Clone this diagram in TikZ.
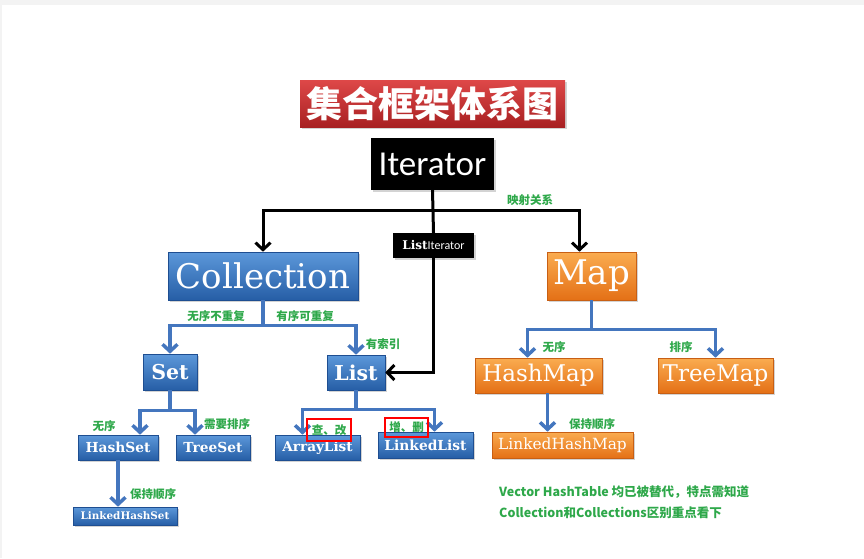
\documentclass[tikz,border=0pt]{standalone}
\usepackage{fontspec}
\usepackage{xcolor}
\usepackage{tikz}
\usetikzlibrary{arrows.meta,positioning,shadows,calc}
\newfontfamily\cjk{Noto Sans CJK SC}
\newfontfamily\boxfont{DejaVu Serif}
\newfontfamily\itfont{Carlito}
\newcommand\fsz[1]{\fontsize{#1}{#1}\selectfont}
\definecolor{boxtop}{RGB}{92,152,218}
\definecolor{boxbot}{RGB}{38,94,166}
\definecolor{boxedge}{RGB}{30,78,145}
\definecolor{ortop}{RGB}{250,172,80}
\definecolor{orbot}{RGB}{228,112,22}
\definecolor{oredge}{RGB}{200,95,20}
\definecolor{redtop}{RGB}{222,72,72}
\definecolor{redbot}{RGB}{168,32,34}
\definecolor{linkc}{RGB}{68,118,190}
\definecolor{notec}{RGB}{46,168,74}
\definecolor{stripc}{RGB}{243,243,243}

\begin{document}
\begin{tikzpicture}[x=1pt,y=-1pt,>={Straight Barb[length=7pt,width=15pt]},
    bx/.style={rectangle,inner sep=0pt,text=white,drop shadow={opacity=0.35,shadow xshift=1.5pt,shadow yshift=-1.5pt}},
    bluebox/.style={bx,top color=boxtop,bottom color=boxbot,draw=boxedge,line width=0.6pt,font=\boxfont},
    orbox/.style={bx,top color=ortop,bottom color=orbot,draw=oredge,line width=0.6pt,font=\boxfont},
    blkbox/.style={bx,fill=black},
    note/.style={text=notec,font=\cjk\bfseries\fsz{11.5},inner sep=0pt},
    blk/.style={draw=black,line width=3pt},
    lnk/.style={draw=linkc,line width=3.5pt}]
  \useasboundingbox (0,0) rectangle (864,558);
  % page edge
  \fill[stripc] (0,0) rectangle (864,5);
  \fill[stripc] (0,0) rectangle (1.5,558);
  % title and iterators
  \node[bx,top color=redtop,bottom color=redbot,minimum width=265pt,minimum height=47pt] (title) at (432.5,103.5) {\cjk\bfseries\fsz{36}集合框架体系图};
  \node[blkbox,minimum width=123pt,minimum height=52pt] (iter) at (432.5,164) {\itfont\fsz{35}Iterator};
  \node[blkbox,minimum width=81pt,minimum height=25pt] (lit) at (433.5,245.5) {{\boxfont\bfseries\fsz{12}List}{\itfont\fsz{12}Iterator}};
  % top level
  \node[bluebox,minimum width=190pt,minimum height=48pt] (coll) at (263,276) {\fsz{34}Collection};
  \node[orbox,minimum width=89pt,minimum height=48pt] (map) at (591.5,276) {\fsz{34}Map};
  % collection side
  \node[bluebox,minimum width=54pt,minimum height=36pt] (set) at (170,372) {\bfseries\fsz{20.5}Set};
  \node[bluebox,minimum width=58pt,minimum height=35pt] (list) at (356,372.5) {\bfseries\fsz{20.5}List};
  \node[bluebox,minimum width=80pt,minimum height=25pt] (hs) at (118,447.5) {\bfseries\fsz{13.8}HashSet};
  \node[bluebox,minimum width=74pt,minimum height=25pt] (ts) at (213,447.5) {\bfseries\fsz{13.8}TreeSet};
  \node[bluebox,minimum width=104pt,minimum height=18pt] (lhs) at (125,516) {\bfseries\fsz{10.4}LinkedHashSet};
  \node[bluebox,minimum width=85pt,minimum height=25pt] (al) at (317.5,447.5) {\bfseries\fsz{13.6}ArrayList};
  \node[bluebox,minimum width=95pt,minimum height=26pt] (ll) at (425.5,445) {\bfseries\fsz{13.8}LinkedList};
  % map side
  \node[orbox,minimum width=127pt,minimum height=35pt] (hm) at (538.5,375.5) {\fsz{23}HashMap};
  \node[orbox,minimum width=115pt,minimum height=35pt] (tm) at (715.5,375.5) {\fsz{23}TreeMap};
  \node[orbox,minimum width=141pt,minimum height=26pt] (lhm) at (562.5,445) {\fsz{15.4}LinkedHashMap};
  % black connectors
  \coordinate (itj) at ($(iter.south)+(0,20)$);
  \draw[blk] (iter.south) -- (lit.north);
  \draw[blk,->] (itj) -| (coll.north);
  \draw[blk,->] (itj) -| ([xshift=-12pt]map.north);
  \draw[blk,->] (lit.south) |- (list.east);
  % blue connectors
  \coordinate (cj) at ($(coll.south)+(0,25)$);
  \draw[lnk] (coll.south) -- (cj);
  \draw[lnk,->] (cj) -| (set.north);
  \draw[lnk,->] (cj) -| (list.north);
  \coordinate (sj) at ($(set.south)+(0,20)$);
  \draw[lnk] (set.south) -- (sj);
  \draw[lnk,->] (sj) -| ([xshift=22pt]hs.north);
  \draw[lnk,->] (sj) -| ([xshift=-18pt]ts.north);
  \draw[lnk,->] (hs.south) -- (hs.south |- lhs.north);
  \coordinate (lj) at ($(list.south)+(0,19)$);
  \draw[lnk] (list.south) -- (lj);
  \draw[lnk,->] (lj) -| ([xshift=-15pt]al.north);
  \draw[lnk,->] (lj) -| ([xshift=9pt]ll.north);
  \coordinate (mj) at ($(map.south)+(0,29)$);
  \draw[lnk] (map.south) -- (mj);
  \draw[lnk,->] (mj) -| ([xshift=-11pt]hm.north);
  \draw[lnk,->] (mj) -| (tm.north);
  \draw[lnk,->] ([xshift=9pt]hm.south) -- ([xshift=9pt]hm.south |- lhm.north);
  % green notes
  \node[note] (n1) at (530,200) {映射关系};
  \node[note] (n2) at (216,316) {无序不重复};
  \node[note] (n3) at (305,316) {有序可重复};
  \node[note] (n4) at (383,344) {有索引};
  \node[note] (n5) at (104,426) {无序};
  \node[note] (n6) at (227,424) {需要排序};
  \node[note] (n7) at (153,494) {保持顺序};
  \node[note,draw=red,line width=1.6pt,minimum width=44pt,minimum height=22pt] (n8) at (329,430) {查、改};
  \node[note,draw=red,line width=1.6pt,minimum width=43pt,minimum height=19pt] (n9) at (406.5,427.5) {增、删};
  \node[note] (n10) at (554,347) {无序};
  \node[note] (n11) at (681,347) {排序};
  \node[note] (n12) at (592,424) {保持顺序};
  \node[note,anchor=west,font=\cjk\bfseries\fsz{12.5}] (tip1) at (499,492) {Vector HashTable 均已被替代，特点需知道};
  \node[note,anchor=west,font=\cjk\bfseries\fsz{12.5}] (tip2) at (499,513) {Collection和Collections区别重点看下};
\end{tikzpicture}
\end{document}
